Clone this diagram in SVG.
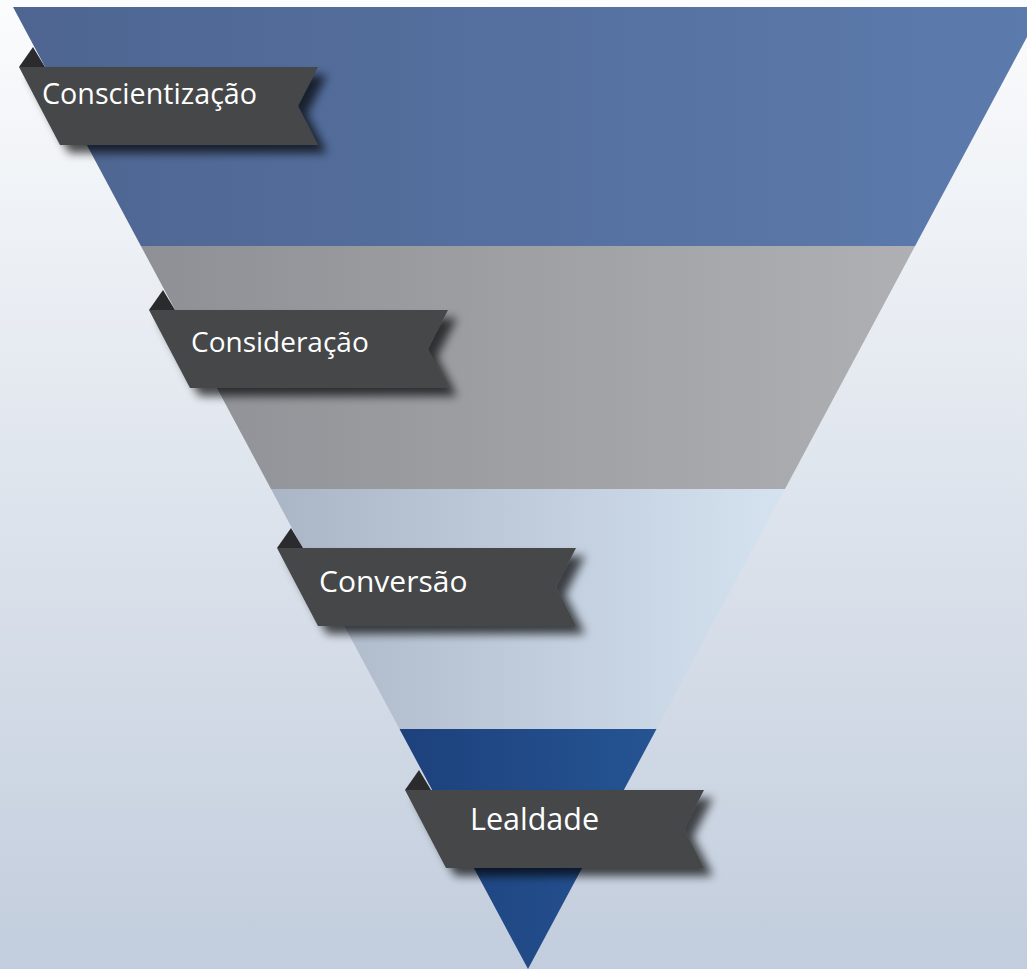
<svg xmlns="http://www.w3.org/2000/svg" width="1027" height="969" viewBox="0 0 1027 969">
  <defs>
    <linearGradient id="bg" x1="0" y1="0" x2="0" y2="1">
      <stop offset="0" stop-color="#fbfcfd"/>
      <stop offset="1" stop-color="#c2cddd"/>
    </linearGradient>
    <linearGradient id="g1" x1="0" y1="0" x2="1" y2="0">
      <stop offset="0" stop-color="#4e6591"/>
      <stop offset="1" stop-color="#5c7bad"/>
    </linearGradient>
    <linearGradient id="g2" x1="0" y1="0" x2="1" y2="0">
      <stop offset="0" stop-color="#8e9095"/>
      <stop offset="1" stop-color="#afb0b3"/>
    </linearGradient>
    <linearGradient id="g3" x1="0" y1="0" x2="1" y2="0">
      <stop offset="0" stop-color="#aab6c6"/>
      <stop offset="1" stop-color="#d5e2f0"/>
    </linearGradient>
    <linearGradient id="g4" x1="0" y1="0" x2="1" y2="0">
      <stop offset="0" stop-color="#1d417c"/>
      <stop offset="1" stop-color="#255493"/>
    </linearGradient>
    <filter id="shadow" x="-10%" y="-30%" width="130%" height="180%">
      <feGaussianBlur in="SourceAlpha" stdDeviation="5"/>
      <feOffset dx="9" dy="8" result="b"/>
      <feComponentTransfer><feFuncA type="linear" slope="0.7"/></feComponentTransfer>
      <feMerge><feMergeNode/><feMergeNode in="SourceGraphic"/></feMerge>
    </filter>
    <path id="ribbon" d="M0,0 L299,0 L279,39 L299,78 L41,78 Z"/>
    <path id="fold" d="M0,0 L14,-20 L26,0 Z"/>
  </defs>
  <style>
    .rib { fill: #454648; }
    .fold { fill: #2b2b2d; }
    .lbl { fill: #ffffff; font-family: "Open Sans", "Noto Sans", "DejaVu Sans", sans-serif; font-size: 28px; }
  </style>
  <rect x="0" y="0" width="1027" height="969" fill="url(#bg)"/>

  <g id="funnel">
    <g id="band-1"><polygon points="13,7 1043,7 915.1,246 140.9,246" fill="url(#g1)"/></g>
    <g id="band-2"><polygon points="140.9,246 915.1,246 785,489 271,489" fill="url(#g2)"/></g>
    <g id="band-3"><polygon points="271,489 785,489 656.5,729 399.5,729" fill="url(#g3)"/></g>
    <g id="band-4"><polygon points="399.5,729 656.5,729 528,969" fill="url(#g4)"/></g>
  </g>

  <g id="label-conscientizacao">
    <use href="#fold" class="fold" x="19" y="67"/>
    <use href="#ribbon" class="rib" x="19" y="67" filter="url(#shadow)"/>
    <text class="lbl" x="42" y="104" style="font-size:28.7px">Conscientização</text>
  </g>
  <g id="label-consideracao">
    <use href="#fold" class="fold" x="149" y="310"/>
    <use href="#ribbon" class="rib" x="149" y="310" filter="url(#shadow)"/>
    <text class="lbl" x="191" y="352">Consideração</text>
  </g>
  <g id="label-conversao">
    <use href="#fold" class="fold" x="277" y="548"/>
    <use href="#ribbon" class="rib" x="277" y="548" filter="url(#shadow)"/>
    <text class="lbl" x="319" y="592" style="font-size:30px">Conversão</text>
  </g>
  <g id="label-lealdade">
    <use href="#fold" class="fold" x="405" y="790"/>
    <use href="#ribbon" class="rib" x="405" y="790" filter="url(#shadow)"/>
    <text class="lbl" x="470" y="830" style="font-size:30.5px">Lealdade</text>
  </g>
</svg>
